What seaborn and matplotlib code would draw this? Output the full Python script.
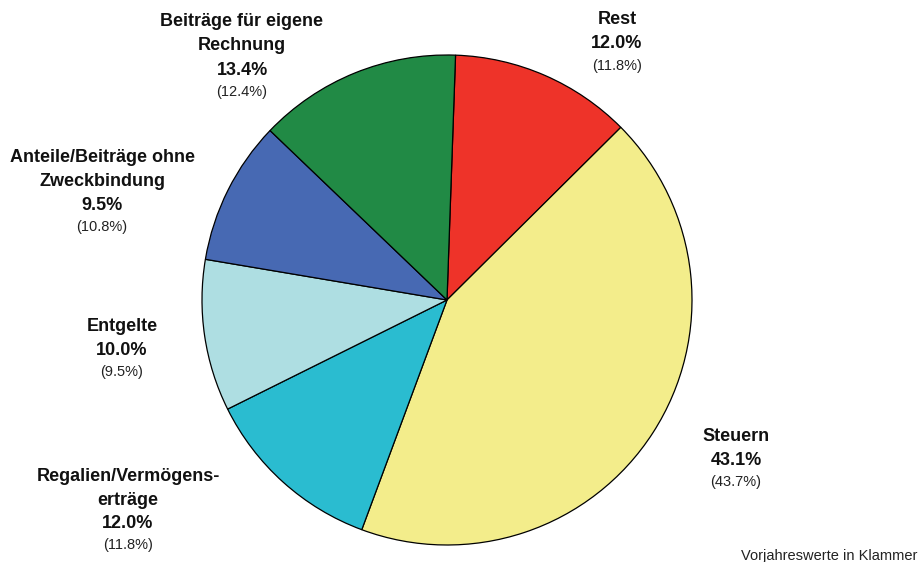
import matplotlib
matplotlib.use("Agg")
import matplotlib.pyplot as plt
import seaborn as sns

sns.set_theme(style="white")
plt.rcParams["font.family"] = ["Liberation Sans", "DejaVu Sans"]

# Shares of revenue, current year and previous year (in brackets)
categories = ["Rest", "Steuern", "Regalien/Vermögens-\nerträge", "Entgelte",
              "Anteile/Beiträge ohne\nZweckbindung", "Beiträge für eigene\nRechnung"]
shares = [12.0, 43.1, 12.0, 10.0, 9.5, 13.4]
prev_shares = [11.8, 43.7, 11.8, 9.5, 10.8, 12.4]
colors = ["#EE3329", "#F3ED8B", "#2ABCD0", "#AEDEE2", "#4769B3", "#218A45"]

# label anchor (pixel x of centre, pixel y of first line)
label_pos = [(617, 20), (736, 436), (128, 476), (122, 326), (102, 157), (242, 22)]

W, H = 919, 562
CX, CY, R = 447, 300, 245

fig = plt.figure(figsize=(W / 100, H / 100), dpi=100)
ax = fig.add_axes([0, 0, 1, 1])

ax.pie(shares, colors=colors, startangle=88, counterclock=False, radius=1,
       wedgeprops=dict(edgecolor="black", linewidth=0.9))

# pie() sets its own limits, so fix the view afterwards
ax.set_xlim(-CX / R, (W - CX) / R)
ax.set_ylim(-(H - CY) / R, CY / R)
ax.set_aspect("equal")
ax.axis("off")


def to_data(px, py):
    return (px - CX) / R, (CY - py) / R


for name, val, prev, (px, py) in zip(categories, shares, prev_shares, label_pos):
    lines = name.split("\n") + [f"{val:.1f}%"]
    y = py
    for ln in lines:
        ax.text(*to_data(px, y), ln, ha="center", va="center",
                fontsize=13, fontweight="bold", color="#111111")
        y += 24
    y -= 2.5
    ax.text(*to_data(px, y), f"({prev:.1f}%)", ha="center", va="center",
            fontsize=10.5, color="#222222")

ax.text(*to_data(917, 556), "Vorjahreswerte in Klammer", ha="right", va="center",
        fontsize=10.5, color="#222222")

fig.savefig("out.png", dpi=100)
